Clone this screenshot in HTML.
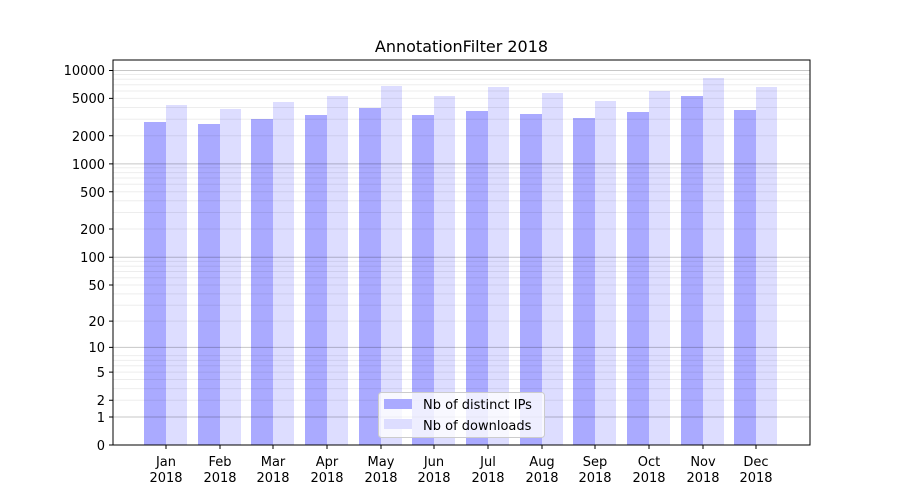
<!DOCTYPE html><html><head><style>body{margin:0;background:#fff}svg{display:block;font-family:"DejaVu Sans","Liberation Sans",sans-serif}</style></head><body>
<svg width="900" height="500" viewBox="0 0 900 500" xmlns="http://www.w3.org/2000/svg">
<rect width="900" height="500" fill="#fff"/>
<g id="bars"></g>
<g fill="#aaaaff">
<rect x="144" y="122" width="22" height="323"/><rect x="198" y="124" width="22" height="321"/><rect x="251" y="119" width="22" height="326"/><rect x="305" y="115" width="22" height="330"/><rect x="359" y="108" width="22" height="337"/><rect x="412" y="115" width="22" height="330"/><rect x="466" y="111" width="22" height="334"/><rect x="520" y="114" width="22" height="331"/><rect x="573" y="118" width="22" height="327"/><rect x="627" y="112" width="22" height="333"/><rect x="681" y="96" width="22" height="349"/><rect x="734" y="110" width="22" height="335"/>
</g>
<g fill="#ddddff">
<rect x="166" y="105" width="21" height="340"/><rect x="220" y="109" width="21" height="336"/><rect x="273" y="102" width="21" height="343"/><rect x="327" y="96" width="21" height="349"/><rect x="381" y="86" width="21" height="359"/><rect x="434" y="96" width="21" height="349"/><rect x="488" y="87" width="21" height="358"/><rect x="542" y="93" width="21" height="352"/><rect x="595" y="101" width="21" height="344"/><rect x="649" y="91" width="21" height="354"/><rect x="703" y="78" width="21" height="367"/><rect x="756" y="87" width="21" height="358"/>
</g>
<g stroke="#000" stroke-opacity="0.07" stroke-width="1">
<path d="M113 400.3H810M113 388.6H810M113 379.5H810M113 372.1H810M113 365.8H810M113 360.4H810M113 355.6H810M113 321.1H810M113 305.3H810M113 293.9H810M113 285H810M113 277.7H810M113 271.5H810M113 266.2H810M113 261.4H810M113 229H810M113 212.5H810M113 200.8H810M113 191.7H810M113 184.3H810M113 178H810M113 172.6H810M113 167.8H810M113 135.7H810M113 119.2H810M113 107.5H810M113 98.4H810M113 91H810M113 84.7H810M113 79.3H810M113 74.5H810"/>
</g>
<g stroke="#000" stroke-opacity="0.22" stroke-width="1">
<path d="M113 417H810M113 347.4H810M113 257.2H810M113 163.9H810M113 70.5H810"/>
</g>
<rect x="113" y="60" width="697" height="385" fill="none" stroke="#000" stroke-width="1"/>
<g stroke="#000" stroke-width="1">
<path d="M113 445h-4M113 417h-4M113 400.3h-4M113 372.1h-4M113 347.4h-4M113 321.1h-4M113 285h-4M113 257.2h-4M113 229h-4M113 191.7h-4M113 163.9h-4M113 135.7h-4M113 98.4h-4M113 70.5h-4"/>
<path d="M166 445v4M220 445v4M273 445v4M327 445v4M381 445v4M434 445v4M488 445v4M542 445v4M595 445v4M649 445v4M703 445v4M756 445v4"/>
</g>
<g font-size="13" text-anchor="end" fill="#000">
<text x="105" y="450">0</text><text x="105" y="422">1</text><text x="105" y="405">2</text><text x="105" y="377">5</text><text x="105" y="352">10</text><text x="105" y="326">20</text><text x="105" y="290">50</text><text x="105" y="262">100</text><text x="105" y="234">200</text><text x="105" y="197">500</text><text x="105" y="169">1000</text><text x="105" y="141">2000</text><text x="105" y="103">5000</text><text x="105" y="75">10000</text>
</g>
<g font-size="13" text-anchor="middle" fill="#000">
<text x="166" y="466">Jan</text><text x="220" y="466">Feb</text><text x="273" y="466">Mar</text><text x="327" y="466">Apr</text><text x="381" y="466">May</text><text x="434" y="466">Jun</text><text x="488" y="466">Jul</text><text x="542" y="466">Aug</text><text x="595" y="466">Sep</text><text x="649" y="466">Oct</text><text x="703" y="466">Nov</text><text x="756" y="466">Dec</text>
<text x="166" y="482">2018</text><text x="220" y="482">2018</text><text x="273" y="482">2018</text><text x="327" y="482">2018</text><text x="381" y="482">2018</text><text x="434" y="482">2018</text><text x="488" y="482">2018</text><text x="542" y="482">2018</text><text x="595" y="482">2018</text><text x="649" y="482">2018</text><text x="703" y="482">2018</text><text x="756" y="482">2018</text>
<text x="461.5" y="52" font-size="16">AnnotationFilter 2018</text>
</g>
<rect x="378.5" y="392.5" width="166" height="45" rx="3" fill="#fff" fill-opacity="0.8" stroke="#ccc"/>
<rect x="384" y="399" width="28" height="10" fill="#aaaaff"/>
<rect x="384" y="419" width="28" height="10" fill="#ddddff"/>
<text x="423" y="409" font-size="13">Nb of distinct IPs</text>
<text x="423" y="430" font-size="13">Nb of downloads</text>
</svg>
</body></html>
